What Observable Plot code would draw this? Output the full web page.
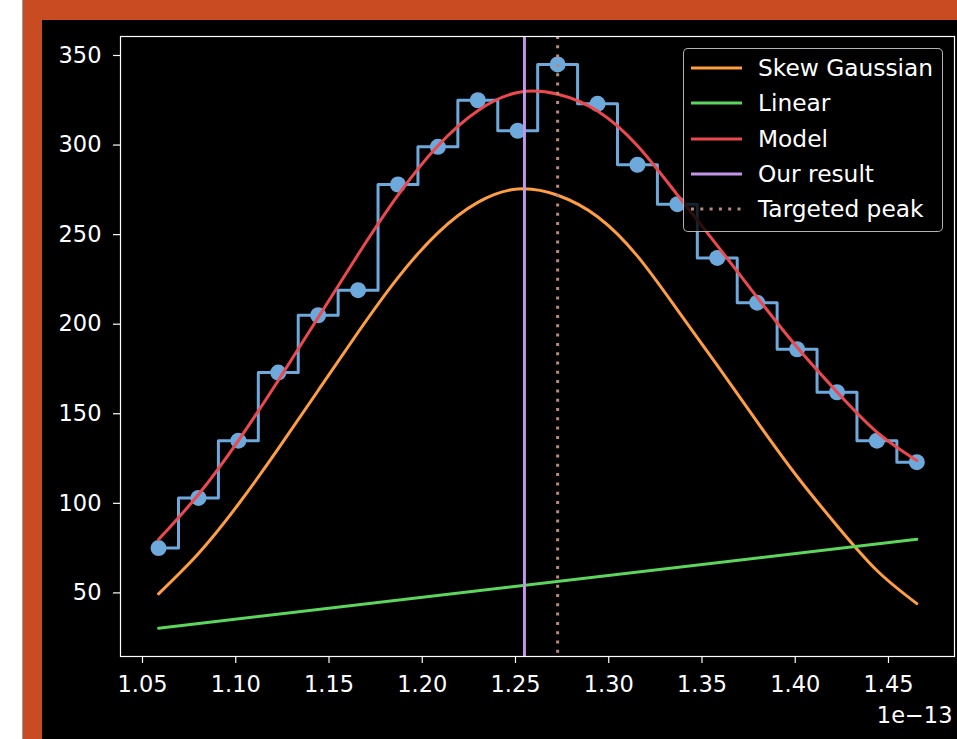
<!DOCTYPE html>
<html>
<head>
<meta charset="utf-8">
<script src="https://cdn.jsdelivr.net/npm/d3@7"></script>
<script src="https://cdn.jsdelivr.net/npm/@observablehq/plot@0.6"></script>
<style>
  html, body { margin: 0; padding: 0; background: #fff; }
  body { width: 957px; height: 739px; overflow: hidden; position: relative; font-family: "DejaVu Sans", sans-serif; }
  #frameOrange { position: absolute; left: 22px; top: 0; width: 935px; height: 739px; background: #c84b22; border-left: 1px solid #9a9a9a; box-sizing: border-box; }
  #chart { position: absolute; left: 42px; top: 20px; width: 915px; height: 719px; background: #000; }
  #legend { position: absolute; left: 683px; top: 48px; width: 260px; height: 184px; box-sizing: border-box;
            background: rgba(0,0,0,0.8); border: 1.3px solid rgba(255,255,255,0.7); border-radius: 5px; }
  .row { position: absolute; left: 0; height: 30px; width: 258px; }
  .row svg { position: absolute; left: 6px; top: 0; }
  .row span { position: absolute; left: 74px; top: 0; line-height: 30px; font-size: 23.3px; color: #fff; white-space: nowrap; }
</style>
</head>
<body>
<div id="frameOrange"></div>
<div id="chart"></div>
<div id="legend"></div>
<script>
// ---- data (x in units of 1e-13) ----
const binCenters = [1.0586, 1.0800, 1.1014, 1.1228, 1.1442, 1.1656, 1.1870, 1.2084, 1.2298, 1.2512,
                    1.2726, 1.2940, 1.3154, 1.3368, 1.3582, 1.3796, 1.4010, 1.4224, 1.4438, 1.4652];
const counts = [75, 103, 135, 173, 205, 219, 278, 299, 325, 308,
                345, 323, 289, 267, 237, 212, 186, 162, 135, 123];
const skewGaussian = [49.5, 72, 99.5, 130.5, 163, 195.5, 226, 251, 268, 275.5,
                      272, 260, 238, 208, 177, 145.5, 115, 87.5, 62.5, 44];
const modelFit = [79.8, 104.9, 135, 168.6, 203.7, 238.9, 272.0, 299.6, 319.2, 329.3,
                  328.4, 319.0, 299.6, 272.2, 243.9, 215.0, 187.1, 162.2, 139.8, 123.9];
const linearX = [1.0586, 1.4652];
const linearY = [30.3, 79.9];
const ourResult = 1.2548;
const targetedPeak = 1.2726;
const xTicks = [1.05, 1.10, 1.15, 1.20, 1.25, 1.30, 1.35, 1.40, 1.45];
const yTicks = [50, 100, 150, 200, 250, 300, 350];
const seriesNames = ["Skew Gaussian", "Linear", "Model", "Our result", "Targeted peak"];
const offsetText = "1e\u221213";

// ---- colours ----
const C = {
  data: "#6ea9dc",
  skew: "#ff9e40",
  linear: "#5cd65c",
  model: "#ec484d",
  ours: "#c196e8",
  target: "#b98a7c"
};

const hist = binCenters.map((x, i) => ({x, y: counts[i]}));
const skew = binCenters.map((x, i) => ({x, y: skewGaussian[i]}));
const model = binCenters.map((x, i) => ({x, y: modelFit[i]}));
const lin = linearX.map((x, i) => ({x, y: linearY[i]}));

const FS = 22.5;
const LW = 3;
const chart = Plot.plot({
  width: 915,
  height: 719,
  marginLeft: 78,
  marginRight: 3,
  marginTop: 16,
  marginBottom: 83,
  style: {background: "black", color: "white", fontFamily: "DejaVu Sans", fontSize: FS + "px", overflow: "visible"},
  x: {domain: [1.0382, 1.4854]},
  y: {domain: [14.5, 360.6]},
  marks: [
    Plot.axisX({ticks: xTicks, tickFormat: d => d.toFixed(2), tickSize: 7, tickPadding: 13,
                stroke: "white", fill: "white", strokeWidth: 1.2, label: null, fontSize: FS}),
    Plot.axisY({ticks: yTicks, tickFormat: d => String(d), tickSize: 7, tickPadding: 12,
                stroke: "white", fill: "white", strokeWidth: 1.2, label: null, fontSize: FS}),
    Plot.line(hist, {x: "x", y: "y", curve: "step", stroke: C.data, strokeWidth: LW}),
    Plot.dot(hist, {x: "x", y: "y", r: 8, fill: C.data, stroke: "none"}),
    Plot.line(skew, {x: "x", y: "y", curve: "natural", stroke: C.skew, strokeWidth: LW}),
    Plot.line(lin, {x: "x", y: "y", stroke: C.linear, strokeWidth: LW}),
    Plot.line(model, {x: "x", y: "y", curve: "natural", stroke: C.model, strokeWidth: LW}),
    Plot.ruleX([ourResult], {stroke: C.ours, strokeWidth: LW}),
    Plot.ruleX([targetedPeak], {stroke: C.target, strokeWidth: LW, strokeDasharray: "3,6.3"}),
    Plot.frame({stroke: "white", strokeWidth: 1.2}),
    Plot.text([offsetText], {frameAnchor: "bottom-right", dy: 66, dx: -2, textAnchor: "end",
                             fill: "white", fontSize: FS})
  ]
});
document.getElementById("chart").appendChild(chart);

// ---- legend ----
const legendColors = [C.skew, C.linear, C.model, C.ours, C.target];
const legend = document.getElementById("legend");
const rowCenters = [18.7, 54, 89.7, 124.7, 160.3];
seriesNames.forEach((name, i) => {
  const row = document.createElement("div");
  row.className = "row";
  row.style.top = (rowCenters[i] - 15) + "px";
  const dash = i === 4 ? ' stroke-dasharray="3,6.3"' : '';
  row.innerHTML = `<svg width="56" height="30"><line x1="1" y1="15" x2="52" y2="15" stroke="${legendColors[i]}" stroke-width="${LW}"${dash}/></svg><span>${name}</span>`;
  legend.appendChild(row);
});
</script>
</body>
</html>
